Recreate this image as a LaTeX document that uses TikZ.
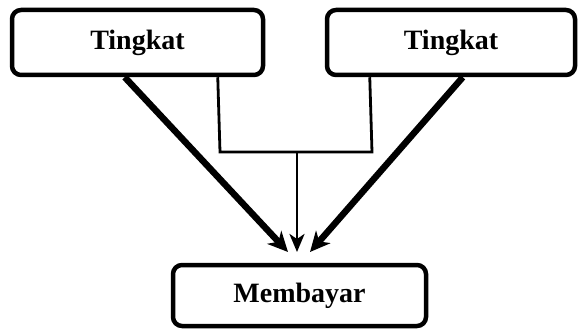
\documentclass[tikz,border=0pt]{standalone}
\usepackage{fontspec}
\setmainfont{Liberation Serif}
\usetikzlibrary{arrows.meta,calc}
\begin{document}
\begin{tikzpicture}[x=1pt,y=-1pt,
  box/.style={draw,line width=4.5pt,rounded corners=9pt,fill=white,inner sep=0pt,
    font=\fontsize{28}{30}\selectfont\bfseries},
  thickarrow/.style={line width=6.5pt,-{Stealth[length=20pt,width=19pt,inset=6pt]}},
  thinline/.style={line width=2.8pt},
  thinarrow/.style={line width=2.8pt,-{Stealth[length=18pt,width=15pt,inset=5pt]}}]
\useasboundingbox (0,0) rectangle (578,331);
\node[box,minimum width=251pt,minimum height=65pt] (L) at (137.5,42.5) {Tingkat};
\node[box,minimum width=248pt,minimum height=65pt] (R) at (451,42.5) {Tingkat};
\node[box,minimum width=253pt,minimum height=61pt] (B) at (299.5,295.5) {Membayar};
\coordinate (bl) at ($(L.south west)+(115,0)$);
\coordinate (br) at ($(R.south west)+(138,0)$);
\coordinate (tl) at (288,252);
\coordinate (tr) at (310,252);
\coordinate (tm) at (297,252);
\coordinate (j) at (297,152);
\draw[thickarrow] (bl) -- (tl);
\draw[thickarrow] (br) -- (tr);
\draw[thinline] ($(L.south west)+(208,0)$) -- (220,152) -- (372,152) -- ($(R.south west)+(45,0)$);
\draw[thinarrow] (j) -- (tm);
\end{tikzpicture}
\end{document}
